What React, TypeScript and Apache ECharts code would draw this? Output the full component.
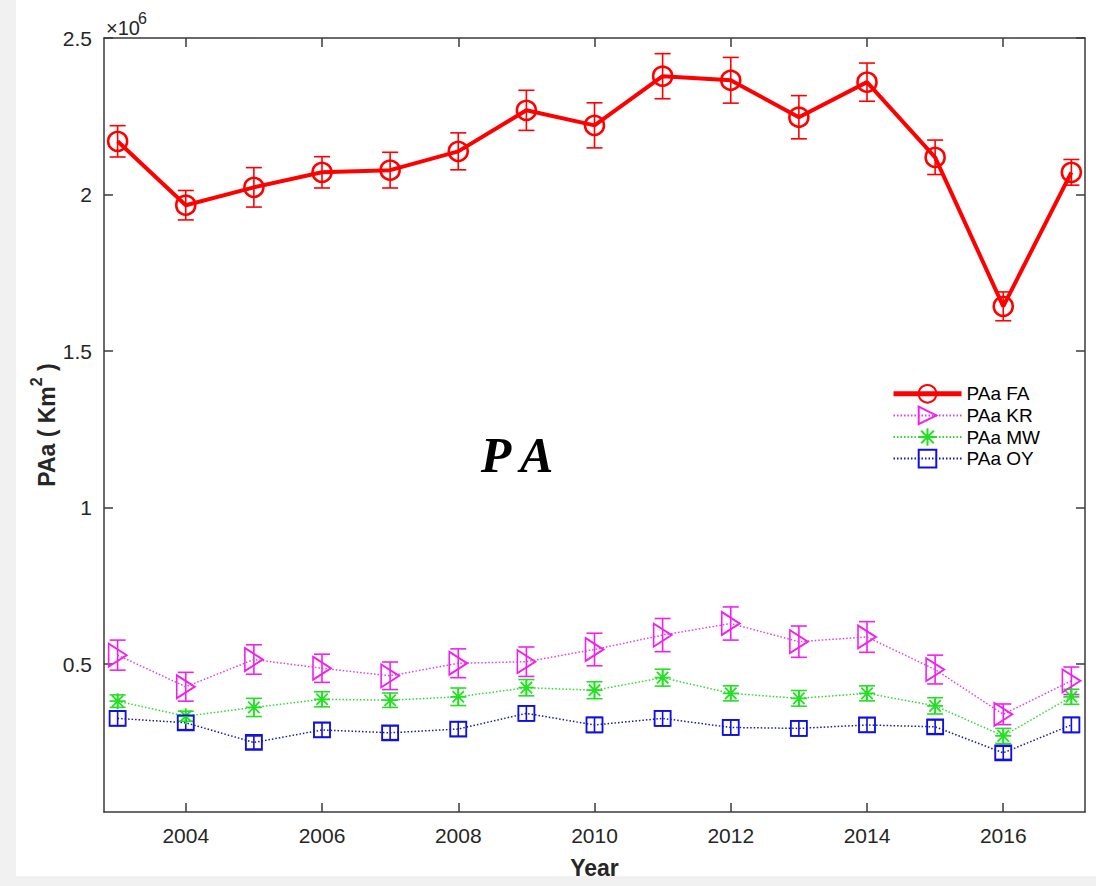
import { useEffect, useRef } from 'react';
import * as echarts from 'echarts';

// Years on the x axis
const years = [2003, 2004, 2005, 2006, 2007, 2008, 2009, 2010, 2011, 2012, 2013, 2014, 2015, 2016, 2017];

// PAa FA: yearly mean and error (km²)
const faMean = [2170000, 1966000, 2023000, 2071000, 2078000, 2138000, 2269000, 2221000, 2378000, 2365000, 2247000, 2359000, 2119000, 1643000, 2071000];
const faErr = [50000, 47000, 63000, 50000, 57000, 59000, 64000, 72000, 72000, 73000, 69000, 61000, 55000, 46000, 41000];

// PAa KR
const krMean = [529000, 428000, 515000, 487000, 463000, 503000, 508000, 547000, 593000, 630000, 572000, 587000, 483000, 340000, 447000];
const krErr = [48000, 46000, 47000, 45000, 44000, 46000, 47000, 52000, 53000, 53000, 50000, 49000, 46000, 33000, 44000];

// PAa MW
const mwMean = [382000, 334000, 362000, 388000, 385000, 396000, 425000, 417000, 457000, 407000, 391000, 407000, 367000, 271000, 396000];
const mwErr = [20000, 16000, 29000, 24000, 23000, 28000, 26000, 27000, 27000, 24000, 25000, 24000, 26000, 24000, 24000];

// PAa OY
const oyMean = [327000, 313000, 250000, 290000, 281000, 293000, 343000, 306000, 327000, 298000, 295000, 306000, 300000, 217000, 306000];
const oyErr = [23000, 22000, 21000, 23000, 22000, 23000, 24000, 24000, 24000, 24000, 24000, 23000, 22000, 21000, 24000];

// Tick values
const xTicks = [2004, 2006, 2008, 2010, 2012, 2014, 2016];
const yTicks = [500000, 1000000, 1500000, 2000000, 2500000];

const FONT = '"Liberation Sans", Arial, Helvetica, sans-serif';
const AXIS_COLOR = '#3a3a3a';
const TEXT_COLOR = '#262626';

const ASTERISK = 'path://M8,0L8,16M0,8L16,8M2.3,2.3L13.7,13.7M2.3,13.7L13.7,2.3';
const TRI_RIGHT = 'path://M0,0L18,11.5L0,23Z';

function errorSeries(color: string, mean: number[], err: number[], lineWidth: number) {
  const cap = 8;
  return {
    type: 'custom',
    name: 'err',
    z: 3,
    silent: true,
    encode: { x: 0, y: 1 },
    data: years.map((yr, i) => [yr, mean[i], err[i]]),
    renderItem: (_params: any, api: any) => {
      const x = api.value(0);
      const v = api.value(1);
      const e = api.value(2);
      const lo = api.coord([x, v - e]);
      const hi = api.coord([x, v + e]);
      const style = { stroke: color, lineWidth, fill: 'none' };
      return {
        type: 'group',
        children: [
          { type: 'line', shape: { x1: lo[0], y1: lo[1], x2: hi[0], y2: hi[1] }, style },
          { type: 'line', shape: { x1: lo[0] - cap, y1: lo[1], x2: lo[0] + cap, y2: lo[1] }, style },
          { type: 'line', shape: { x1: hi[0] - cap, y1: hi[1], x2: hi[0] + cap, y2: hi[1] }, style },
        ],
      };
    },
  };
}

function lineSeries(
  name: string,
  mean: number[],
  lineColor: string,
  markColor: string,
  width: number,
  dotted: boolean,
  symbol: string,
  size: number | number[],
  borderWidth: number,
) {
  return {
    type: 'line',
    name,
    z: 4,
    data: years.map((yr, i) => [yr, mean[i]]),
    symbol,
    symbolSize: size,
    showAllSymbol: true,
    lineStyle: { color: lineColor, width, type: dotted ? [1.5, 2] : 'solid' },
    itemStyle: { color: 'rgba(0,0,0,0)', borderColor: markColor, borderWidth },
  };
}

export default function App() {
  const ref = useRef<HTMLDivElement>(null);

  useEffect(() => {
    if (!ref.current) return;
    const chart = echarts.init(ref.current, undefined, { renderer: 'svg' });

    const xMin = 2002.8;
    const xMax = 2017.2;
    const yMin = 28000;
    const yMax = 2500000;

    chart.setOption({
      animation: false,
      backgroundColor: '#ffffff',
      grid: { left: 104, right: 11, top: 38, bottom: 74, containLabel: false },
      legend: {
        orient: 'vertical',
        left: 886,
        top: 379,
        itemWidth: 68,
        itemHeight: 22,
        itemGap: 2,
        data: [
          { name: 'PAa FA', lineStyle: { width: 5 } },
          { name: 'PAa KR' },
          { name: 'PAa MW' },
          { name: 'PAa OY' },
        ],
        textStyle: { fontFamily: FONT, fontSize: 19, color: '#000' },
        selectedMode: false,
      },
      xAxis: [
        {
          type: 'value',
          min: xMin,
          max: xMax,
          position: 'bottom',
          axisLine: { show: true, lineStyle: { color: AXIS_COLOR, width: 1.5 } },
          axisTick: { show: true, inside: true, length: 9, customValues: xTicks, lineStyle: { color: AXIS_COLOR, width: 1.5 } },
          axisLabel: {
            show: true,
            customValues: xTicks,
            margin: 13,
            fontFamily: FONT,
            fontSize: 21,
            color: TEXT_COLOR,
            formatter: (v: number) => String(Math.round(v)),
          },
          splitLine: { show: false },
          name: 'Year',
          nameLocation: 'middle',
          nameGap: 44,
          nameTextStyle: { fontFamily: FONT, fontSize: 23, fontWeight: 'bold', color: TEXT_COLOR },
        },
        {
          type: 'value',
          min: xMin,
          max: xMax,
          position: 'top',
          axisLine: { show: true, lineStyle: { color: AXIS_COLOR, width: 1.5 } },
          axisTick: { show: true, inside: true, length: 9, customValues: xTicks, lineStyle: { color: AXIS_COLOR, width: 1.5 } },
          axisLabel: { show: false },
          splitLine: { show: false },
        },
      ],
      yAxis: [
        {
          type: 'value',
          min: yMin,
          max: yMax,
          position: 'left',
          axisLine: { show: true, lineStyle: { color: AXIS_COLOR, width: 1.5 } },
          axisTick: { show: true, inside: true, length: 9, customValues: yTicks, lineStyle: { color: AXIS_COLOR, width: 1.5 } },
          axisLabel: {
            show: true,
            customValues: yTicks,
            margin: 12,
            fontFamily: FONT,
            fontSize: 21,
            color: TEXT_COLOR,
            formatter: (v: number) => String(v / 1000000),
          },
          splitLine: { show: false },
        },
        {
          type: 'value',
          min: yMin,
          max: yMax,
          position: 'right',
          axisLine: { show: true, lineStyle: { color: AXIS_COLOR, width: 1.5 } },
          axisTick: { show: true, inside: true, length: 9, customValues: yTicks, lineStyle: { color: AXIS_COLOR, width: 1.5 } },
          axisLabel: { show: false },
          splitLine: { show: false },
        },
      ],
      graphic: [
        { type: 'rect', left: 0, top: 0, shape: { width: 16, height: 886 }, style: { fill: '#f1f1f1' }, z: -10, silent: true },
        { type: 'rect', left: 0, top: 876, shape: { width: 1096, height: 10 }, style: { fill: '#f1f1f1' }, z: -10, silent: true },
        {
          type: 'text',
          x: 106,
          y: 18,
          style: { text: '×10', fontFamily: FONT, fontSize: 20, fill: TEXT_COLOR, verticalAlign: 'top' },
        },
        {
          type: 'text',
          x: 138,
          y: 10,
          style: { text: '6', fontFamily: FONT, fontSize: 16, fill: TEXT_COLOR, verticalAlign: 'top' },
        },
        {
          type: 'text',
          x: 43,
          y: 425,
          rotation: Math.PI / 2,
          style: {
            text: '{a|PAa ( Km}{b|2}{a| )}',
            align: 'center',
            verticalAlign: 'middle',
            rich: {
              a: { fontFamily: FONT, fontSize: 23, fontWeight: 'bold', fill: TEXT_COLOR, color: TEXT_COLOR, lineHeight: 30, verticalAlign: 'bottom' },
              b: { fontFamily: FONT, fontSize: 16, fontWeight: 'bold', fill: TEXT_COLOR, color: TEXT_COLOR, lineHeight: 18, verticalAlign: 'top' },
            },
          },
        },
        {
          type: 'text',
          x: 517,
          y: 455,
          style: {
            text: 'P A',
            fontFamily: '"Liberation Serif", "Times New Roman", serif',
            fontSize: 50,
            fontWeight: 'bold',
            fontStyle: 'italic',
            fill: '#000',
            align: 'center',
            verticalAlign: 'middle',
          },
        },
      ],
      series: [
        errorSeries('#ff0000', faMean, faErr, 1.6),
        errorSeries('#f020f0', krMean, krErr, 1.6),
        errorSeries('#22e022', mwMean, mwErr, 1.6),
        errorSeries('#1010e0', oyMean, oyErr, 1.6),
        lineSeries('PAa FA', faMean, '#ff0000', '#ff0000', 4, false, 'circle', 19, 2.6),
        lineSeries('PAa KR', krMean, '#e040e0', '#f020f0', 1.5, true, TRI_RIGHT, [18, 23], 1.8),
        lineSeries('PAa MW', mwMean, '#30d830', '#22e022', 1.5, true, ASTERISK, 16, 1.8),
        lineSeries('PAa OY', oyMean, '#1a1a9a', '#1010e0', 1.5, true, 'rect', [16, 15], 1.8),
      ],
    });

    return () => chart.dispose();
  }, []);

  return (
    <div
      ref={ref}
      style={{ position: 'fixed', left: 0, top: 0, width: 1096, height: 886 }}
    />
  );
}
